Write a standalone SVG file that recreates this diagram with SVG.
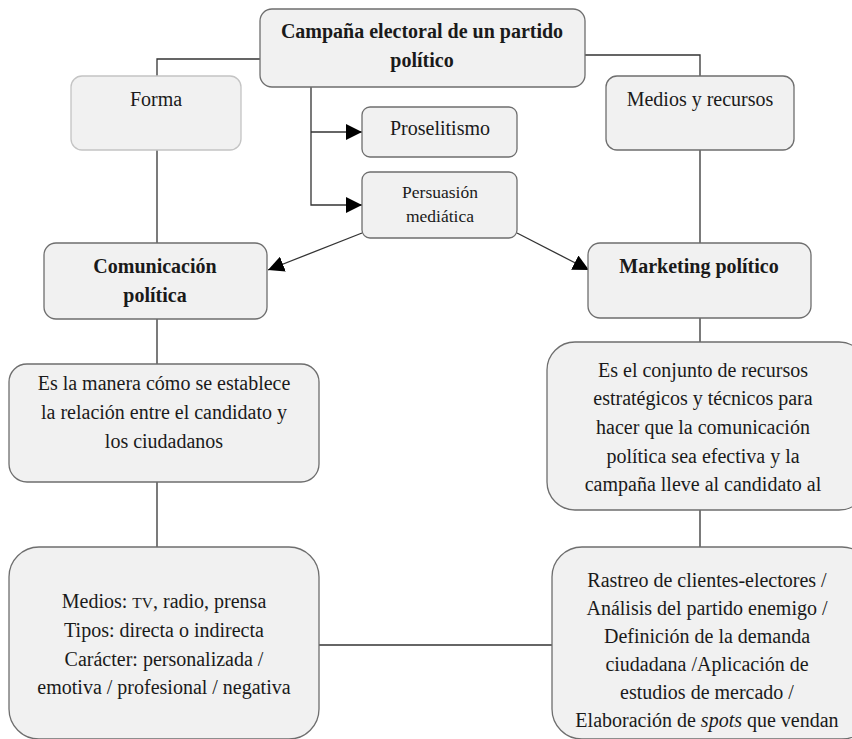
<svg xmlns="http://www.w3.org/2000/svg" width="852" height="739" viewBox="0 0 852 739" font-family="'Liberation Serif', 'Times New Roman', 'DejaVu Serif', serif">
<style>
.box{fill:#f1f1f1;stroke:#6e6e6e;stroke-width:1.3}
.light{stroke:#c4c4c4}
text{font-family:'Liberation Serif','Times New Roman','DejaVu Serif',serif;font-size:20px;fill:#1a1a1a;text-anchor:middle}
.b{font-weight:bold}
.s{font-size:17.5px}
.c{fill:none;stroke:#333;stroke-width:1.3}
</style>
<defs>
<marker id="ah" viewBox="0 0 10 10" refX="10" refY="5" markerWidth="16" markerHeight="16" markerUnits="userSpaceOnUse" orient="auto">
<path d="M0,0 L10,5 L0,10 z" fill="#000"/>
</marker>
</defs>
<g id="connectors">
<path class="c" d="M260,59 H157 V76"/>
<path class="c" d="M157,150 V243"/>
<path class="c" d="M585,55 H700 V76"/>
<path class="c" d="M700,150 V243"/>
<path class="c" d="M311,87 V205 H362" marker-end="url(#ah)"/>
<path class="c" d="M311,132 H362" marker-end="url(#ah)"/>
<path class="c" d="M362,233 L268,270" marker-end="url(#ah)"/>
<path class="c" d="M517,233 L589,270" marker-end="url(#ah)"/>
<path class="c" d="M157,319 V364"/>
<path class="c" d="M157,482 V547"/>
<path class="c" d="M700,318 V342"/>
<path class="c" d="M700,510 V547"/>
<path class="c" d="M319,645 H552"/>
</g>
<g id="campana">
<rect class="box" x="260" y="9" width="325" height="78" rx="12"/>
<text class="b" x="422" y="38">Campaña electoral de un partido</text>
<text class="b" x="422" y="67">político</text>
</g>
<g id="forma">
<rect class="box light" x="71" y="76" width="170" height="74" rx="11"/>
<text x="156" y="106">Forma</text>
</g>
<g id="medios-recursos">
<rect class="box" x="606" y="76" width="188" height="74" rx="11"/>
<text x="700" y="106">Medios y recursos</text>
</g>
<g id="proselitismo">
<rect class="box" x="362" y="107" width="155" height="50" rx="8"/>
<text x="440" y="135">Proselitismo</text>
</g>
<g id="persuasion">
<rect class="box" x="362" y="172" width="155" height="66" rx="8"/>
<text class="s" x="440" y="198">Persuasión</text>
<text class="s" x="440" y="222">mediática</text>
</g>
<g id="comunicacion">
<rect class="box" x="44" y="243" width="223" height="76" rx="12"/>
<text class="b" x="155" y="273">Comunicación</text>
<text class="b" x="155" y="302">política</text>
</g>
<g id="marketing">
<rect class="box" x="588" y="243" width="223" height="75" rx="12"/>
<text class="b" x="699" y="273">Marketing político</text>
</g>
<g id="es-la-manera">
<rect class="box" x="9" y="364" width="310" height="118" rx="18"/>
<text x="164" y="390">Es la manera cómo se establece</text>
<text x="164" y="419">la relación entre el candidato y</text>
<text x="164" y="448">los ciudadanos</text>
</g>
<g id="es-el-conjunto">
<rect class="box" x="547" y="342" width="320" height="168" rx="28"/>
<text x="703" y="377">Es el conjunto de recursos</text>
<text x="703" y="405">estratégicos y técnicos para</text>
<text x="703" y="434">hacer que la comunicación</text>
<text x="703" y="463">política sea efectiva y la</text>
<text x="703" y="491">campaña lleve al candidato al</text>
</g>
<g id="medios-tipos">
<rect class="box" x="9" y="547" width="310" height="192" rx="30"/>
<text x="164" y="608">Medios: <tspan font-size="15.5">TV</tspan>, radio, prensa</text>
<text x="164" y="637">Tipos: directa o indirecta</text>
<text x="164" y="666">Carácter: personalizada /</text>
<text x="164" y="694">emotiva / profesional / negativa</text>
</g>
<g id="rastreo">
<rect class="box" x="552" y="547" width="320" height="192" rx="30"/>
<text x="707" y="587">Rastreo de clientes-electores /</text>
<text x="707" y="615">Análisis del partido enemigo /</text>
<text x="707" y="643">Definición de la demanda</text>
<text x="707" y="671">ciudadana /Aplicación de</text>
<text x="707" y="699">estudios de mercado /</text>
<text x="707" y="727">Elaboración de <tspan font-style="italic">spots</tspan> que vendan</text>
</g>
</svg>
